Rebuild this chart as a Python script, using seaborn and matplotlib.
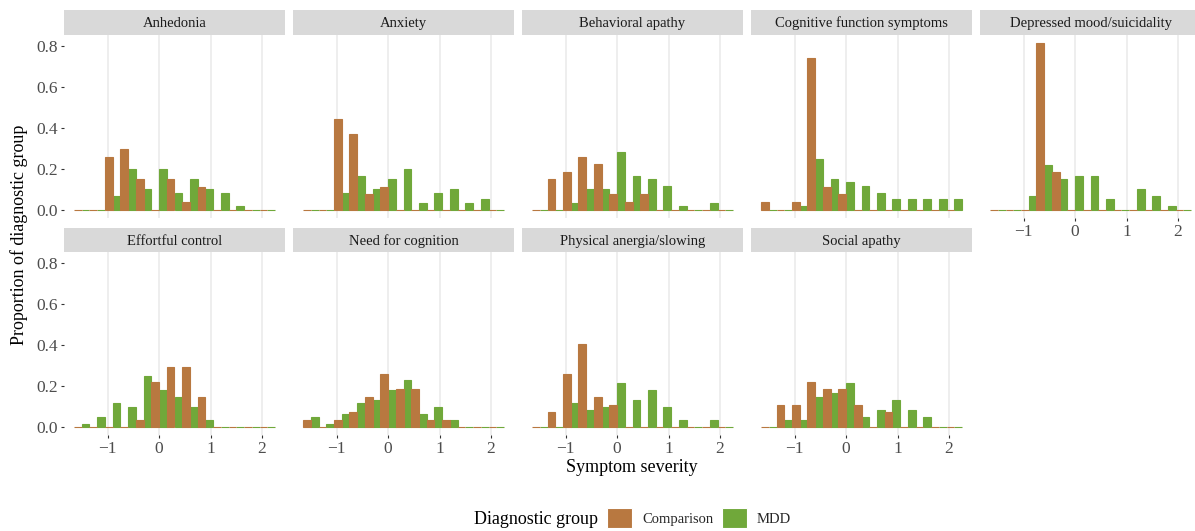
import numpy as np
import pandas as pd
import matplotlib
matplotlib.use("Agg")
import matplotlib.pyplot as plt
from matplotlib.patches import Patch
import seaborn as sns

# ---------------- data ----------------
bin_centers = [-1.5, -1.2, -0.9, -0.6, -0.3, 0.0, 0.3, 0.6, 0.9, 1.2, 1.5, 1.8, 2.1]
groups = ["Comparison", "MDD"]
facets = ["Anhedonia", "Anxiety", "Behavioral apathy", "Cognitive function symptoms",
          "Depressed mood/suicidality", "Effortful control", "Need for cognition",
          "Physical anergia/slowing", "Social apathy"]

anhedonia_comp = [0, 0, 0.257, 0.297, 0.150, 0, 0.150, 0.037, 0.111, 0, 0, 0, 0]
anhedonia_mdd = [0, 0, 0.067, 0.199, 0.101, 0.199, 0.081, 0.150, 0.101, 0.081, 0.018, 0, 0]
anxiety_comp = [0, 0, 0.443, 0.370, 0.077, 0.111, 0, 0, 0, 0, 0, 0, 0]
anxiety_mdd = [0, 0, 0.081, 0.165, 0.101, 0.150, 0.199, 0.033, 0.081, 0.101, 0.033, 0.052, 0]
behav_comp = [0, 0.150, 0.184, 0.257, 0.223, 0.077, 0.037, 0.077, 0, 0, 0, 0, 0]
behav_mdd = [0, 0, 0.033, 0.101, 0.101, 0.282, 0.165, 0.150, 0.116, 0.018, 0, 0.033, 0]
cognit_comp = [0.037, 0, 0.037, 0.741, 0.111, 0.077, 0, 0, 0, 0, 0, 0, 0]
cognit_mdd = [0, 0, 0.018, 0.248, 0.150, 0.135, 0.116, 0.081, 0.052, 0.052, 0.052, 0.052, 0.052]
depress_comp = [0, 0, 0, 0.815, 0.184, 0, 0, 0, 0, 0, 0, 0, 0]
depress_mdd = [0, 0, 0.067, 0.218, 0.150, 0.165, 0.165, 0.052, 0, 0.101, 0.067, 0.018, 0]
effort_comp = [0, 0, 0, 0, 0.034, 0.220, 0.293, 0.293, 0.147, 0, 0, 0, 0]
effort_mdd = [0.015, 0.049, 0.117, 0.098, 0.249, 0.181, 0.147, 0.098, 0.034, 0, 0, 0, 0]
need_comp = [0.034, 0, 0.034, 0.073, 0.147, 0.259, 0.186, 0.186, 0.034, 0.034, 0, 0, 0]
need_mdd = [0.049, 0.015, 0.064, 0.117, 0.132, 0.181, 0.230, 0.064, 0.098, 0.034, 0, 0, 0]
phys_comp = [0, 0.073, 0.259, 0.406, 0.147, 0.108, 0, 0, 0, 0, 0, 0, 0]
phys_mdd = [0, 0, 0.117, 0.083, 0.098, 0.215, 0.132, 0.181, 0.098, 0.034, 0, 0.034, 0]
social_comp = [0, 0.108, 0.108, 0.220, 0.186, 0.186, 0.108, 0, 0.073, 0, 0, 0, 0]
social_mdd = [0, 0.034, 0.034, 0.147, 0.166, 0.215, 0.049, 0.083, 0.132, 0.083, 0.049, 0, 0]

series = {
    "Anhedonia": (anhedonia_comp, anhedonia_mdd),
    "Anxiety": (anxiety_comp, anxiety_mdd),
    "Behavioral apathy": (behav_comp, behav_mdd),
    "Cognitive function symptoms": (cognit_comp, cognit_mdd),
    "Depressed mood/suicidality": (depress_comp, depress_mdd),
    "Effortful control": (effort_comp, effort_mdd),
    "Need for cognition": (need_comp, need_mdd),
    "Physical anergia/slowing": (phys_comp, phys_mdd),
    "Social apathy": (social_comp, social_mdd),
}

x_ticks = [-1, 0, 1, 2]
y_ticks = [0.0, 0.2, 0.4, 0.6, 0.8]

rows = []
for f in facets:
    comp, mdd = series[f]
    for g, vals in zip(groups, (comp, mdd)):
        for c, v in zip(bin_centers, vals):
            rows.append({"facet": f, "group": g, "severity": c, "proportion": v})
df = pd.DataFrame(rows)

# ---------------- style ----------------
sns.set_theme(style="white")
plt.rcParams["font.family"] = ["Liberation Serif", "DejaVu Serif"]
plt.rcParams["axes.unicode_minus"] = True

palette = {"Comparison": "#B87840", "MDD": "#70A83A"}
binwidth = 0.3
edges = [round(bin_centers[0] - binwidth / 2 + k * binwidth, 4) for k in range(len(bin_centers) + 1)]

W, H = 1195, 531
fig = plt.figure(figsize=(W / 100, H / 100), dpi=100)

col_left = [64, 293, 522, 751, 980]
panel_w = 221
row_top = [34.6, 252.0]
panel_h = 183.4
strip_h = 24.5

xlim = (-1.845, 2.445)
ylim = (-0.0408, 0.856)

for i, f in enumerate(facets):
    r, c = divmod(i, 5)
    left = col_left[c]
    top = row_top[r]
    ax = fig.add_axes([left / W, 1 - (top + panel_h) / H, panel_w / W, panel_h / H])
    sub = df[df["facet"] == f]
    sns.histplot(data=sub, x="severity", weights="proportion", hue="group",
                 hue_order=groups, palette=palette, bins=edges, multiple="dodge",
                 shrink=1, alpha=1, legend=False, ax=ax)
    for p in ax.patches:
        p.set_edgecolor(p.get_facecolor())
        p.set_linewidth(0.8)
    ax.set_xlim(*xlim)
    ax.set_ylim(*ylim)
    ax.set_xticks(x_ticks)
    ax.set_yticks(y_ticks)
    ax.grid(False)
    for xv in x_ticks:
        ax.axvline(xv, color="#EBEBEB", lw=1.2, zorder=0)
    ax.set_axisbelow(True)
    for s in ax.spines.values():
        s.set_visible(False)
    ax.set_xlabel("")
    ax.set_ylabel("")
    show_x = (r == 1) or (c == 4)
    show_y = (c == 0)
    ax.tick_params(axis="x", bottom=show_x, labelbottom=show_x, length=2.5, width=0.8,
                   color="#333333", labelcolor="#4D4D4D", labelsize=12.5, pad=1.5)
    ax.tick_params(axis="y", left=show_y, labelleft=show_y, length=2.5, width=0.8,
                   color="#333333", labelcolor="#4D4D4D", labelsize=12.5, pad=2.0)
    if show_x:
        ax.set_xticklabels(["\u22121", "0", "1", "2"])
    if show_y:
        ax.set_yticklabels(["0.0", "0.2", "0.4", "0.6", "0.8"])
    # strip
    sax = fig.add_axes([left / W, 1 - top / H, panel_w / W, strip_h / H])
    sax.set_facecolor("#D9D9D9")
    sax.set_xticks([])
    sax.set_yticks([])
    for s in sax.spines.values():
        s.set_visible(False)
    sax.text(0.5, 0.3, f, ha="center", va="baseline", fontsize=10.5, color="#1A1A1A",
             transform=sax.transAxes)

fig.text(632 / W, 1 - 467 / H, "Symptom severity", ha="center", va="center", fontsize=13,
         color="black")
fig.text(19 / W, 1 - 235 / H, "Proportion of diagnostic group", ha="center", va="center",
         rotation=90, fontsize=13, color="black")

fig.text(598 / W, 1 - 519 / H, "Diagnostic group", ha="right", va="center", fontsize=13,
         color="black")
handles = [Patch(facecolor=palette[g], edgecolor="white", linewidth=0.8) for g in groups]
fig.legend(handles, groups, loc="center", bbox_to_anchor=(699 / W, 1 - 518 / H), ncol=2,
           frameon=False, fontsize=10.5, handlelength=1.7, handleheight=1.7,
           handletextpad=0.7, columnspacing=0.6, borderpad=0.2)

fig.savefig("out.png", dpi=100)
